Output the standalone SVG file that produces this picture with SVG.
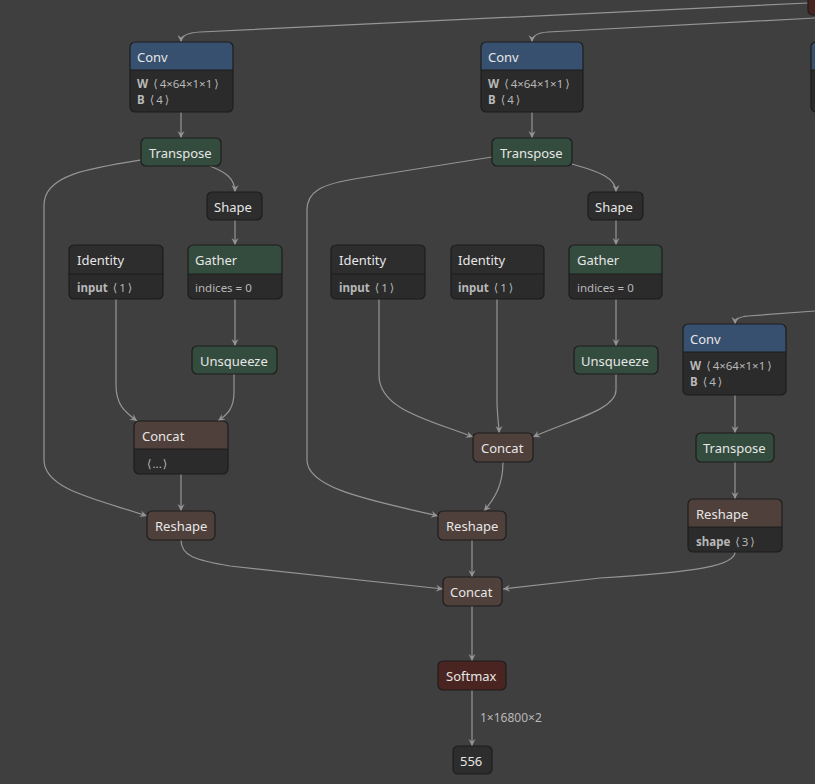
<svg xmlns="http://www.w3.org/2000/svg" width="815" height="784" viewBox="0 0 815 784">
<defs>
<marker id="arr" markerWidth="8" markerHeight="8" refX="7" refY="4" orient="auto" markerUnits="userSpaceOnUse">
<path d="M0,0.5 L7,4 L0,7.5 L2.5,4 Z" fill="#959595"/>
</marker>
<style>
.e{fill:none;stroke:#959595;stroke-width:1.2;marker-end:url(#arr)}
.o{fill:none;stroke:#1d1d1d;stroke-width:1.2}
.body{fill:#2b2b2b}
.conv{fill:#38506f}
.grn{fill:#344c3e}
.brn{fill:#4f403b}
.red{fill:#4a2420}
.dk{fill:#2d2d2d}
.sep{stroke:#1d1d1d;stroke-width:1}
text{font-family:"Noto Sans","Open Sans","DejaVu Sans",sans-serif}
.t{font-size:13px;fill:#e6e6e6}
.a{font-size:11.5px;fill:#b8b8b8}
.b{font-weight:bold}
.lbl{font-size:12px;fill:#b8b8b8}
</style>
</defs>
<rect width="815" height="784" fill="#3f3f3f"/>

<g id="connectors">
<path class="e" d="M 808 3 L 200 32 Q 181 33 181 42"/>
<path class="e" d="M 815 18 L 548 32 Q 532 33 532 42"/>
<path class="e" d="M 815 311 L 748 316 Q 735 317 735 324"/>
<path class="e" d="M 181 112 L 181 138"/>
<path class="e" d="M 210 166 C 225 172, 235 178, 235 192"/>
<path class="e" d="M 235 220 L 235 245"/>
<path class="e" d="M 235 299 L 235 346"/>
<path class="e" d="M 116 299 L 116 385 C 116 405, 125 412, 137 421"/>
<path class="e" d="M 234 374 L 234 392 C 234 408, 228 414, 218 421"/>
<path class="e" d="M 181 474 L 181 511"/>
<path class="e" d="M 141 160 C 90 168, 44 175, 44 205 L 44 460 C 44 490, 100 500, 147 516"/>
<path class="e" d="M 532 112 L 532 138"/>
<path class="e" d="M 572 164 C 600 172, 616 178, 616 192"/>
<path class="e" d="M 616 220 L 616 245"/>
<path class="e" d="M 616 299 L 616 346"/>
<path class="e" d="M 492 157 L 360 178 C 320 184, 307 192, 307 210 L 307 460 C 307 490, 380 502, 438 516"/>
<path class="e" d="M 379 299 L 379 375 C 379 410, 430 420, 473 437"/>
<path class="e" d="M 497 299 L 497 400 C 497 415, 499 425, 499 433"/>
<path class="e" d="M 616 374 L 616 390 C 616 410, 570 420, 533 437"/>
<path class="e" d="M 503 462 C 503 485, 495 498, 484 511"/>
<path class="e" d="M 472 540 L 472 577"/>
<path class="e" d="M 735 395 L 735 433"/>
<path class="e" d="M 735 462 L 735 499"/>
<path class="e" d="M 735 552 C 735 565, 700 572, 600 578 L 503 589"/>
<path class="e" d="M 181 540 C 181 556, 195 560, 230 566 L 443 589"/>
<path class="e" d="M 472 606 L 472 661"/>
<path class="e" d="M 472 690 L 472 746"/>
<text class="lbl" x="480" y="722">1×16800×2</text>
</g>

<g id="top-partial">
<rect x="808" y="-10" width="20" height="25" rx="5" class="red"/>
<rect x="808" y="-10" width="20" height="25" rx="5" class="o"/>
</g>

<g id="conv1">
<rect x="130" y="42" width="103" height="70" rx="5" class="conv"/>
<path class="body" d="M130 70 H233 V107 Q233 112 228 112 H135 Q130 112 130 107 Z"/>
<line class="sep" x1="130" y1="70" x2="233" y2="70"/>
<rect x="130" y="42" width="103" height="70" rx="5" class="o"/>
<text class="t" x="137" y="62">Conv</text>
<text class="a" x="137" y="88"><tspan class="b">W</tspan> <tspan dx="2">⟨</tspan><tspan dx="2">4×64×1×1</tspan><tspan dx="2">⟩</tspan></text>
<text class="a" x="137" y="104"><tspan class="b">B</tspan> <tspan dx="2">⟨</tspan><tspan dx="2">4</tspan><tspan dx="2">⟩</tspan></text>
</g>

<g id="conv2">
<rect x="481" y="42" width="102" height="70" rx="5" class="conv"/>
<path class="body" d="M481 70 H583 V107 Q583 112 578 112 H486 Q481 112 481 107 Z"/>
<line class="sep" x1="481" y1="70" x2="583" y2="70"/>
<rect x="481" y="42" width="102" height="70" rx="5" class="o"/>
<text class="t" x="488" y="62">Conv</text>
<text class="a" x="488" y="88"><tspan class="b">W</tspan> <tspan dx="2">⟨</tspan><tspan dx="2">4×64×1×1</tspan><tspan dx="2">⟩</tspan></text>
<text class="a" x="488" y="104"><tspan class="b">B</tspan> <tspan dx="2">⟨</tspan><tspan dx="2">4</tspan><tspan dx="2">⟩</tspan></text>
</g>

<g id="conv3">
<rect x="811" y="42" width="102" height="70" rx="5" class="conv"/>
<path class="body" d="M811 70 H913 V107 Q913 112 908 112 H816 Q811 112 811 107 Z"/>
<line class="sep" x1="811" y1="70" x2="913" y2="70"/>
<rect x="811" y="42" width="102" height="70" rx="5" class="o"/>
</g>

<g id="conv4">
<rect x="683" y="324" width="103" height="71" rx="5" class="conv"/>
<path class="body" d="M683 352 H786 V390 Q786 395 781 395 H688 Q683 395 683 390 Z"/>
<line class="sep" x1="683" y1="352" x2="786" y2="352"/>
<rect x="683" y="324" width="103" height="71" rx="5" class="o"/>
<text class="t" x="690" y="344">Conv</text>
<text class="a" x="690" y="370"><tspan class="b">W</tspan> <tspan dx="2">⟨</tspan><tspan dx="2">4×64×1×1</tspan><tspan dx="2">⟩</tspan></text>
<text class="a" x="690" y="386"><tspan class="b">B</tspan> <tspan dx="2">⟨</tspan><tspan dx="2">4</tspan><tspan dx="2">⟩</tspan></text>
</g>

<g id="transpose1">
<rect x="141" y="138" width="80" height="28" rx="5" class="grn"/>
<rect x="141" y="138" width="80" height="28" rx="5" class="o"/>
<text class="t" x="149" y="158">Transpose</text>
</g>
<g id="shape1">
<rect x="207" y="192" width="55" height="28" rx="5" class="dk"/>
<rect x="207" y="192" width="55" height="28" rx="5" class="o"/>
<text class="t" x="214" y="212">Shape</text>
</g>
<g id="identity1">
<rect x="69" y="245" width="94" height="54" rx="5" class="dk"/>
<path class="body" d="M69 274 H163 V294 Q163 299 158 299 H74 Q69 299 69 294 Z"/>
<line class="sep" x1="69" y1="274" x2="163" y2="274"/>
<rect x="69" y="245" width="94" height="54" rx="5" class="o"/>
<text class="t" x="77" y="265">Identity</text>
<text class="a" x="77" y="292"><tspan class="b">input</tspan> <tspan dx="2">⟨</tspan><tspan dx="2">1</tspan><tspan dx="2">⟩</tspan></text>
</g>
<g id="gather1">
<rect x="188" y="245" width="94" height="54" rx="5" class="grn"/>
<path class="body" d="M188 274 H282 V294 Q282 299 277 299 H193 Q188 299 188 294 Z"/>
<line class="sep" x1="188" y1="274" x2="282" y2="274"/>
<rect x="188" y="245" width="94" height="54" rx="5" class="o"/>
<text class="t" x="195" y="265">Gather</text>
<text class="a" x="195" y="292">indices = 0</text>
</g>
<g id="unsqueeze1">
<rect x="192" y="346" width="85" height="28" rx="5" class="grn"/>
<rect x="192" y="346" width="85" height="28" rx="5" class="o"/>
<text class="t" x="200" y="366">Unsqueeze</text>
</g>
<g id="concat1">
<rect x="134" y="421" width="94" height="53" rx="5" class="brn"/>
<path class="body" d="M134 449 H228 V469 Q228 474 223 474 H139 Q134 474 134 469 Z"/>
<line class="sep" x1="134" y1="449" x2="228" y2="449"/>
<rect x="134" y="421" width="94" height="53" rx="5" class="o"/>
<text class="t" x="142" y="441">Concat</text>
<text class="a" x="145" y="468" fill="#d0d0d0"><tspan dx="2">⟨</tspan><tspan dx="1">...</tspan><tspan dx="1">⟩</tspan></text>
</g>
<g id="reshape1">
<rect x="147" y="511" width="68" height="29" rx="5" class="brn"/>
<rect x="147" y="511" width="68" height="29" rx="5" class="o"/>
<text class="t" x="155" y="531">Reshape</text>
</g>

<g id="transpose2">
<rect x="492" y="138" width="80" height="28" rx="5" class="grn"/>
<rect x="492" y="138" width="80" height="28" rx="5" class="o"/>
<text class="t" x="500" y="158">Transpose</text>
</g>
<g id="shape2">
<rect x="588" y="192" width="55" height="28" rx="5" class="dk"/>
<rect x="588" y="192" width="55" height="28" rx="5" class="o"/>
<text class="t" x="595" y="212">Shape</text>
</g>
<g id="identity2">
<rect x="331" y="245" width="94" height="54" rx="5" class="dk"/>
<path class="body" d="M331 274 H425 V294 Q425 299 420 299 H336 Q331 299 331 294 Z"/>
<line class="sep" x1="331" y1="274" x2="425" y2="274"/>
<rect x="331" y="245" width="94" height="54" rx="5" class="o"/>
<text class="t" x="339" y="265">Identity</text>
<text class="a" x="339" y="292"><tspan class="b">input</tspan> <tspan dx="2">⟨</tspan><tspan dx="2">1</tspan><tspan dx="2">⟩</tspan></text>
</g>
<g id="identity3">
<rect x="451" y="245" width="93" height="54" rx="5" class="dk"/>
<path class="body" d="M451 274 H544 V294 Q544 299 539 299 H456 Q451 299 451 294 Z"/>
<line class="sep" x1="451" y1="274" x2="544" y2="274"/>
<rect x="451" y="245" width="93" height="54" rx="5" class="o"/>
<text class="t" x="458" y="265">Identity</text>
<text class="a" x="458" y="292"><tspan class="b">input</tspan> <tspan dx="2">⟨</tspan><tspan dx="2">1</tspan><tspan dx="2">⟩</tspan></text>
</g>
<g id="gather2">
<rect x="569" y="245" width="93" height="54" rx="5" class="grn"/>
<path class="body" d="M569 274 H662 V294 Q662 299 657 299 H574 Q569 299 569 294 Z"/>
<line class="sep" x1="569" y1="274" x2="662" y2="274"/>
<rect x="569" y="245" width="93" height="54" rx="5" class="o"/>
<text class="t" x="577" y="265">Gather</text>
<text class="a" x="577" y="292">indices = 0</text>
</g>
<g id="unsqueeze2">
<rect x="574" y="346" width="84" height="28" rx="5" class="grn"/>
<rect x="574" y="346" width="84" height="28" rx="5" class="o"/>
<text class="t" x="581" y="366">Unsqueeze</text>
</g>
<g id="concat2">
<rect x="473" y="433" width="60" height="29" rx="5" class="brn"/>
<rect x="473" y="433" width="60" height="29" rx="5" class="o"/>
<text class="t" x="481" y="453">Concat</text>
</g>
<g id="reshape2">
<rect x="438" y="511" width="68" height="29" rx="5" class="brn"/>
<rect x="438" y="511" width="68" height="29" rx="5" class="o"/>
<text class="t" x="446" y="531">Reshape</text>
</g>

<g id="transpose3">
<rect x="696" y="433" width="78" height="29" rx="5" class="grn"/>
<rect x="696" y="433" width="78" height="29" rx="5" class="o"/>
<text class="t" x="703" y="453">Transpose</text>
</g>
<g id="reshape3">
<rect x="688" y="499" width="94" height="53" rx="5" class="brn"/>
<path class="body" d="M688 527 H782 V547 Q782 552 777 552 H693 Q688 552 688 547 Z"/>
<line class="sep" x1="688" y1="527" x2="782" y2="527"/>
<rect x="688" y="499" width="94" height="53" rx="5" class="o"/>
<text class="t" x="696" y="519">Reshape</text>
<text class="a" x="696" y="546"><tspan class="b">shape</tspan> <tspan dx="2">⟨</tspan><tspan dx="2">3</tspan><tspan dx="2">⟩</tspan></text>
</g>

<g id="concat3">
<rect x="443" y="577" width="59" height="29" rx="5" class="brn"/>
<rect x="443" y="577" width="59" height="29" rx="5" class="o"/>
<text class="t" x="450" y="597">Concat</text>
</g>
<g id="softmax">
<rect x="438" y="661" width="68" height="29" rx="5" class="red"/>
<rect x="438" y="661" width="68" height="29" rx="5" class="o"/>
<text class="t" x="446" y="681">Softmax</text>
</g>
<g id="out556">
<rect x="453" y="746" width="39" height="28" rx="5" class="dk"/>
<rect x="453" y="746" width="39" height="28" rx="5" class="o"/>
<text class="t" x="460" y="766">556</text>
</g>
</svg>
